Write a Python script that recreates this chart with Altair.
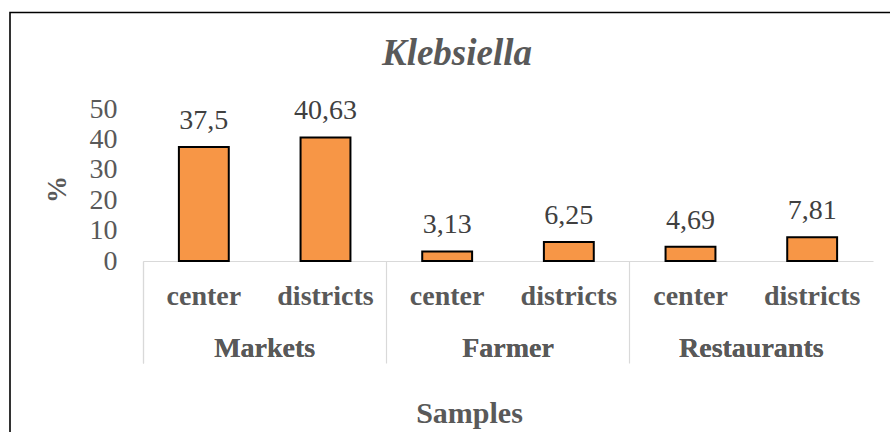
import altair as alt
import pandas as pd

# Klebsiella detection rate by sample source and location
groups = ["Markets", "Markets", "Farmer", "Farmer", "Restaurants", "Restaurants"]
locations = ["center", "districts", "center", "districts", "center", "districts"]
percent = [37.5, 40.63, 3.13, 6.25, 4.69, 7.81]
group_order = ["Markets", "Farmer", "Restaurants"]
location_order = ["center", "districts"]
y_ticks = [0, 10, 20, 30, 40, 50]

df = pd.DataFrame({"group": groups, "location": locations, "percent": percent})
df["label"] = [str(v).replace(".", ",") for v in percent]

FONT = "Liberation Serif"
GREY = "#595959"

x_axis = alt.Axis(
    labels=False,
    bandPosition=0,
    tickExtra=True,
    tickSize=102,
    tickColor="#d9d9d9",
    tickWidth=1.2,
    domainColor="#d9d9d9",
    domainWidth=1.2,
    title="Samples",
    titleFont=FONT,
    titleFontSize=30,
    titleFontWeight="bold",
    titleColor=GREY,
    titleX=326,
    titleY=161,
    titleAlign="center",
    titleBaseline="alphabetic",
)
y_axis = alt.Axis(
    values=y_ticks,
    labelOverlap=False,
    domain=False,
    ticks=False,
    grid=False,
    labelFont=FONT,
    labelFontSize=28,
    labelColor=GREY,
    labelPadding=26,
    title="%",
    titleFont=FONT,
    titleFontSize=27,
    titleFontWeight="bold",
    titleColor=GREY,
    titleX=-78,
    titleY=80,
    titleAlign="center",
    titleBaseline="alphabetic",
)

x_enc = alt.X(
    "group:N",
    sort=group_order,
    scale=alt.Scale(paddingInner=0, paddingOuter=0),
    axis=x_axis,
)
xoff_enc = alt.XOffset(
    "location:N",
    sort=location_order,
    scale=alt.Scale(paddingInner=0.59, paddingOuter=0.295),
)
y_enc = alt.Y(
    "percent:Q",
    scale=alt.Scale(domain=[0, 50], nice=False),
    axis=y_axis,
)

base = alt.Chart(df)

bars = base.mark_bar(fill="#F79646", stroke="black", strokeWidth=2).encode(
    x=x_enc, xOffset=xoff_enc, y=y_enc
)

values = base.mark_text(
    font=FONT, fontSize=28, color="#404040", baseline="alphabetic", dy=-18
).encode(x=x_enc, xOffset=xoff_enc, y=y_enc, text="label:N")

loc_labels = base.mark_text(
    font=FONT, fontSize=28, fontWeight="bold", color=GREY, baseline="alphabetic"
).encode(x=x_enc, xOffset=xoff_enc, y=alt.value(196), text="location:N")

group_labels = base.mark_text(
    font=FONT, fontSize=28, fontWeight="bold", color=GREY, baseline="alphabetic"
).encode(x=x_enc, y=alt.value(248), text="group:N")

title_df = pd.DataFrame({"t": ["Klebsiella"]})
title = alt.Chart(title_df).mark_text(
    font=FONT, fontSize=37, fontWeight="bold", fontStyle="italic",
    color=GREY, baseline="alphabetic", align="center",
).encode(x=alt.value(314), y=alt.value(-44), text="t:N")

frame = alt.Chart(title_df).mark_rect(
    fill=None, stroke="black", strokeWidth=1.6
).encode(
    x=alt.value(-133), x2=alt.value(760), y=alt.value(-96.5), y2=alt.value(345)
)

chart = (
    alt.layer(frame, bars, values, loc_labels, group_labels, title)
    .properties(
        width=730,
        height=152,
        autosize=alt.AutoSizeParams(type="none"),
        padding={"left": 143, "top": 109, "right": 17, "bottom": 171},
        background="white",
    )
    .configure_view(stroke=None)
)

chart.save("out.html", embed_options={"renderer": "svg", "actions": False})
